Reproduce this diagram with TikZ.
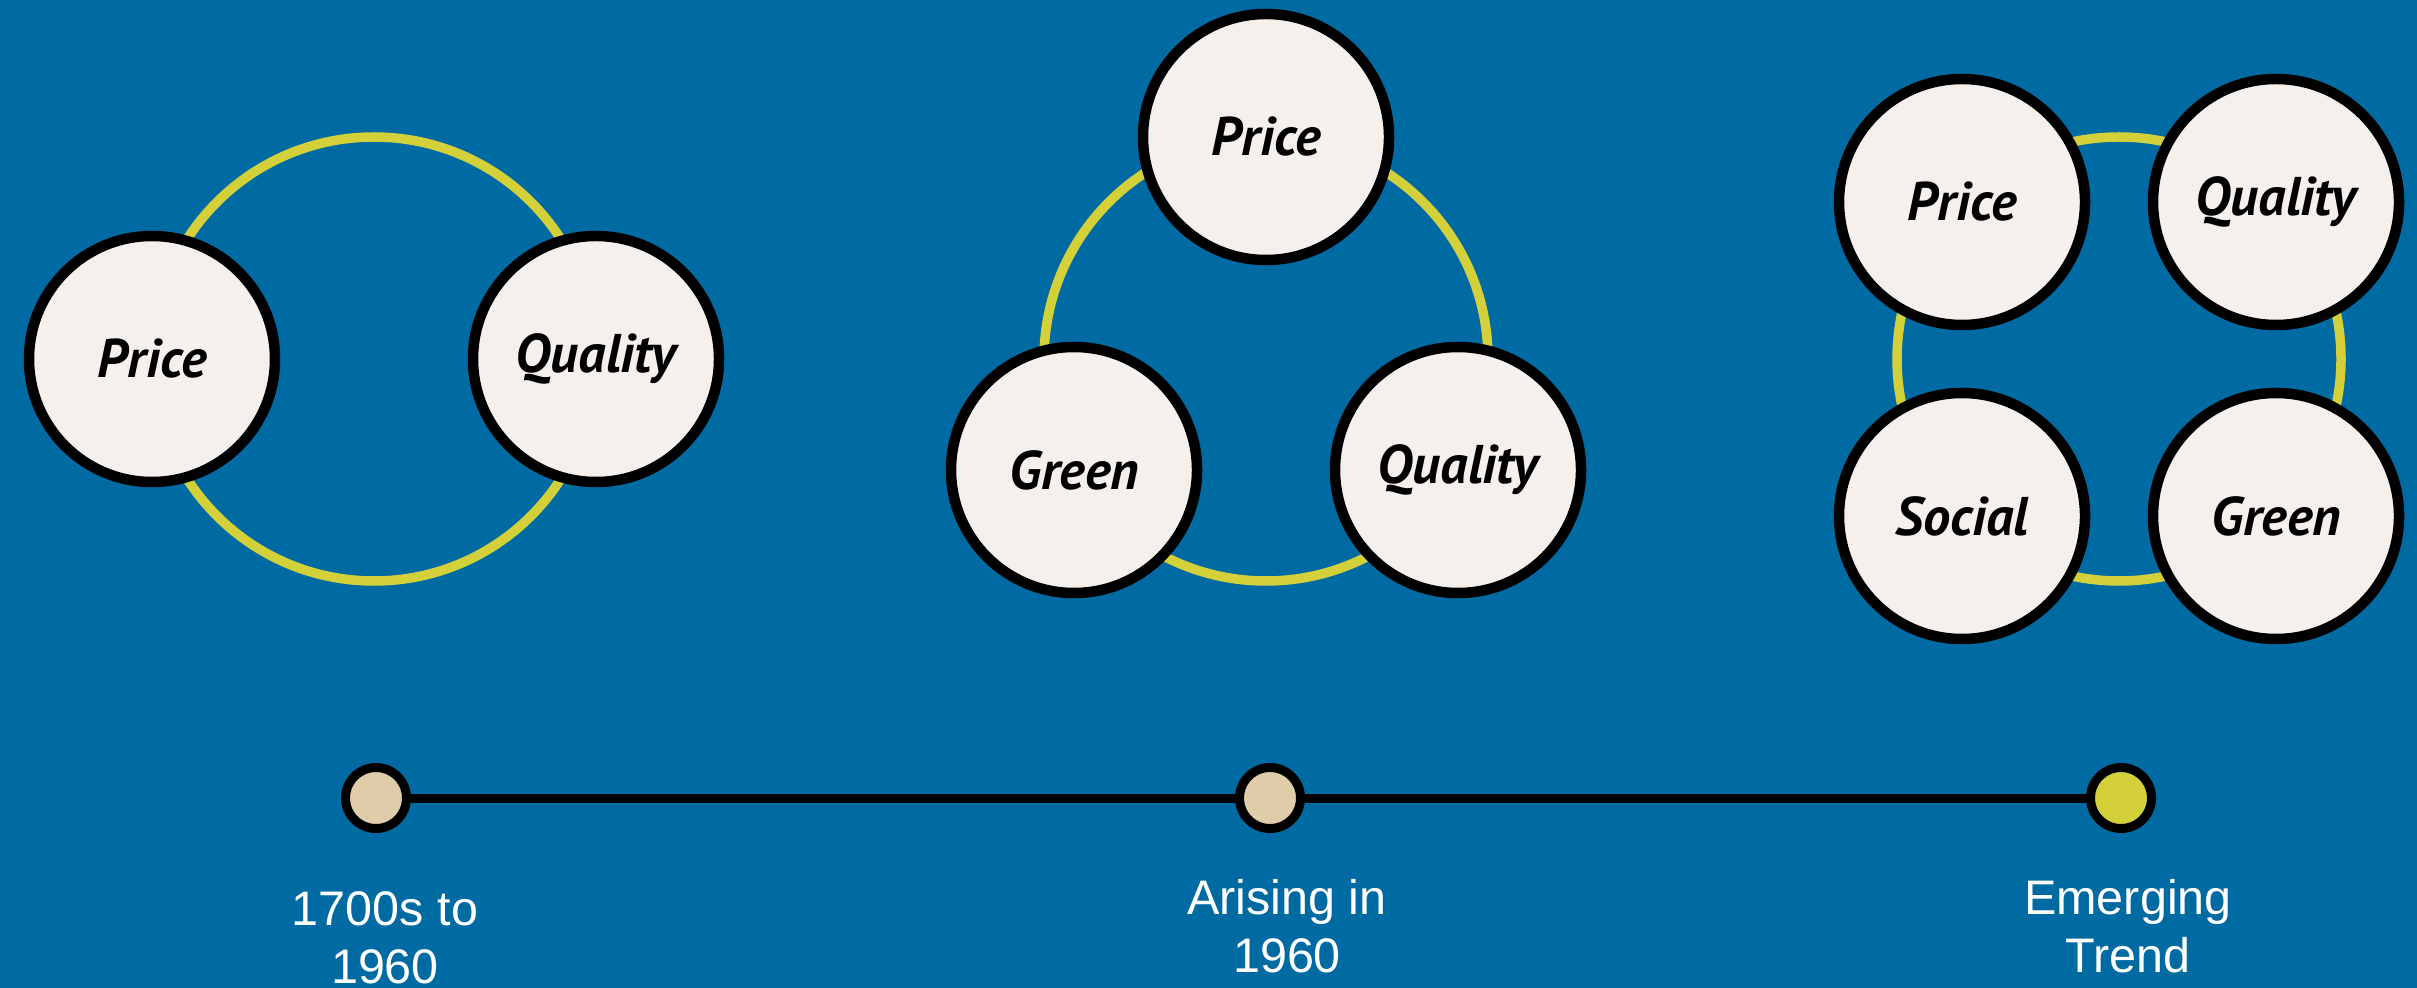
\documentclass[tikz,border=0pt]{standalone}
\usepackage{fontspec}
\setmainfont{Liberation Sans}
\newfontfamily\bubblefont{PT Sans}
\usepackage{tikz}
\definecolor{bgblue}{RGB}{0,107,162}
\definecolor{ringyellow}{RGB}{212,208,58}
\definecolor{bubblefill}{RGB}{246,240,236}
\definecolor{dotbeige}{RGB}{223,205,170}
\pgfkeys{tikz/bubble/.style={circle, draw=black, line width=1.05mm,
                                 fill=bubblefill, minimum size=2.46cm, inner sep=0pt,
                                 font=\bubblefont\bfseries\itshape\fontsize{15.5pt}{18pt}\selectfont}}
\pgfkeys{tikz/ring/.style={draw=ringyellow, line width=0.95mm}}
\pgfkeys{tikz/tdot/.style={circle, draw=black, line width=0.9mm,
                               minimum size=0.61cm, inner sep=0pt}}
\pgfkeys{tikz/yearlabel/.style={white, align=center, inner sep=0pt,
                                    font=\fontsize{13.8pt}{16.5pt}\selectfont}}

\begin{document}
\begin{tikzpicture}
                \useasboundingbox (0,0) rectangle (24.17,-9.88);
                \fill[bgblue] (0,0) rectangle (24.17,-9.88);

                % rings
                \coordinate (c1) at (3.74,-3.59);
                \coordinate (c2) at (12.66,-3.59);
                \coordinate (c3) at (21.19,-3.59);
                \draw[ring] (c1) circle (2.22);
                \draw[ring] (c2) circle (2.22);
                \draw[ring] (c3) circle (2.22);

                \node[bubble] (pr1) at (1.52,-3.59) {Price};
                \node[bubble] (qu1) at (5.96,-3.59) {Quality};

                \node[bubble] (pr2) at (12.66,-1.37) {Price};
                \node[bubble] (gr2) at (10.74,-4.70) {Green};
                \node[bubble] (qu2) at (14.58,-4.70) {Quality};

                \node[bubble] (pr3) at (19.62,-2.02) {Price};
                \node[bubble] (qu3) at (22.76,-2.02) {Quality};
                \node[bubble] (so3) at (19.62,-5.16) {Social};
                \node[bubble] (gr3) at (22.76,-5.16) {Green};

                % timeline
                \node[tdot, fill=dotbeige] (t1) at (3.76,-7.98) {};
                \node[tdot, fill=dotbeige] (t2) at (12.70,-7.98) {};
                \node[tdot, fill=ringyellow] (t3) at (21.21,-7.98) {};

                \draw[line width=0.9mm] (t1) -- (t2);
                \draw[line width=0.9mm] (t2) -- (t3);

                \node[yearlabel, anchor=base] (l1) at (3.85,-9.83) {1700s to\\1960};
                \node[yearlabel, anchor=base] (l2) at (12.87,-9.72) {Arising in\\1960};
                \node[yearlabel, anchor=base] (l3) at (21.28,-9.72) {Emerging\\Trend};
            \end{tikzpicture}
\end{document}
